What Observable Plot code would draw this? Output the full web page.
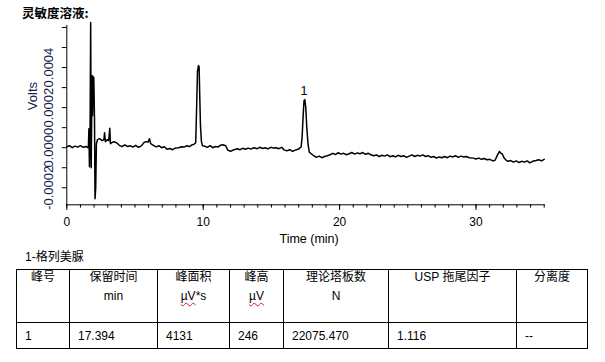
<!DOCTYPE html>
<html>
<head>
<meta charset="utf-8">
<script src="https://cdn.jsdelivr.net/npm/d3@7"></script>
<script src="https://cdn.jsdelivr.net/npm/@observablehq/plot@0.6"></script>
<style>
  html, body { margin: 0; padding: 0; background: #fff; }
  body { width: 605px; height: 362px; position: relative; overflow: hidden;
         font-family: "Liberation Sans", Arial, "Noto Sans CJK SC", sans-serif; color: #000; }
  #title { position: absolute; left: 22px; top: 5px; font: bold 12.5px/16px "Noto Sans CJK SC", sans-serif; }
  #chart { position: absolute; left: 0; top: 20px; }
  #caption { position: absolute; left: 25px; top: 249px; font-size: 12px; line-height: 16px; }
  #tbl { position: absolute; left: 16px; top: 269px; border-collapse: collapse; table-layout: fixed; width: 571px; }
  #tbl td { border: 1px solid #000; padding: 0; font-size: 12px; }
  #tbl tr.h td { height: 52px; vertical-align: top; text-align: center; }
  #tbl tr.d td { height: 25px; vertical-align: middle; text-align: left; padding-left: 8px; }
  .l1 { line-height: 15px; font-family: "Liberation Sans", Arial, "Noto Sans CJK SC", sans-serif; }
  .l2 { line-height: 15px; margin-top: 4px; }
  .sq { text-decoration: underline wavy #d81e1e; text-decoration-thickness: 1px; text-underline-offset: 2px; }
</style>
</head>
<body>
<div id="title">灵敏度溶液:</div>
<div id="chart"></div>
<div id="caption"></div>
<div id="tblwrap"></div>
<script>
// ---- chart data ----
const chartTitle = "灵敏度溶液:";
const xLabel = "Time (min)";
const yLabel = "Volts";
const xDomain = [0, 35];
const yDomain = [-0.000285, 0.00061];
const xMajorTicks = [0, 10, 20, 30];
const xMinorTicks = [0,1,2,3,4,5,6,7,8,9,10,11,12,13,14,15,16,17,18,19,20,21,22,23,24,25,26,27,28,29,30,31,32,33,34,35];
const yTicks = [-0.0002, -0.0001, 0, 0.0001, 0.0002, 0.0003, 0.0004, 0.0005, 0.0006];
const yLabelValues = [-0.0002, 0, 0.0002, 0.0004];
const yLabelTexts = ["-0.0002", "0.0000", "0.0002", "0.0004"];

// trace: [time (min), signal (µV)]
const trace = [
  [0,5],[0.2,10],[0.4,0],[0.6,8],[0.8,3],[1.0,10],[1.2,2],[1.4,6],[1.58,0],
  [1.62,95],[1.66,-95],[1.70,10],[1.75,625],[1.79,-100],[1.85,360],[1.89,160],[1.93,355],[1.98,350],
  [2.03,150],[2.07,-255],[2.12,-200],[2.17,20],[2.25,40],[2.40,45],[2.60,35],[2.72,40],[2.77,75],
  [2.83,30],[2.95,40],[3.07,35],[3.15,97],[3.20,20],[3.30,25],[3.45,30],[3.65,25],
  [3.85,12],[4.05,5],[4.25,14],[4.45,6],[4.65,10],[4.85,3],[5.05,12],[5.25,2],[5.45,8],
  [5.65,25],[5.80,30],[5.95,28],[6.06,45],[6.15,20],
  [6.35,12],[6.55,4],[6.75,10],[6.95,0],[7.15,5],[7.35,-8],[7.55,-4],[7.75,-10],[7.95,-2],
  [8.2,0],[8.4,5],[8.6,3],[8.8,10],[9.0,6],[9.2,15],[9.35,18],[9.45,25],
  [9.50,150],[9.58,380],[9.65,410],[9.70,405],[9.75,250],[9.80,110],[9.87,30],[9.94,10],
  [10.1,8],[10.3,2],[10.5,10],[10.7,0],[10.9,6],[11.1,4],
  [11.25,12],[11.45,15],[11.65,10],
  [11.8,-12],[12.0,-18],[12.25,-10],
  [12.5,-5],[12.7,-10],[12.9,-3],[13.1,-8],[13.3,-2],[13.5,-7],[13.7,0],[13.95,-5],
  [14.15,2],[14.35,-4],[14.55,0],[14.75,-6],[14.95,2],[15.15,-2],
  [15.35,0],[15.55,-5],[15.75,2],[15.95,-12],[16.15,-15],[16.35,-10],[16.55,-18],[16.75,-12],[16.95,-8],[17.12,0],
  [17.18,5],[17.25,50],[17.32,150],[17.39,235],[17.45,240],[17.52,200],[17.60,95],[17.69,15],[17.78,-22],[17.92,-30],
  [18.1,-40],[18.3,-48],[18.5,-42],[18.7,-50],[18.9,-44],[19.1,-40],
  [19.3,-35],[19.5,-28],[19.7,-34],[19.9,-25],[20.1,-32],[20.3,-28],[20.5,-35],[20.7,-30],
  [20.9,-24],[21.1,-32],[21.3,-26],[21.5,-30],[21.7,-24],[21.9,-33],[22.1,-28],
  [22.3,-35],[22.5,-40],[22.7,-36],[22.9,-44],[23.1,-38],[23.3,-42],[23.5,-36],[23.7,-45],[23.9,-40],
  [24.1,-46],[24.3,-38],[24.5,-44],[24.7,-40],[24.9,-48],[25.1,-42],
  [25.3,-36],[25.5,-44],[25.7,-38],[25.9,-42],[26.1,-36],[26.3,-44],[26.5,-40],[26.7,-48],[26.9,-44],
  [27.1,-52],[27.3,-46],[27.5,-50],[27.7,-44],[27.9,-50],[28.1,-42],[28.3,-46],[28.5,-40],[28.7,-48],
  [28.9,-42],[29.1,-46],[29.3,-44],[29.5,-50],
  [29.8,-52],[30.0,-56],[30.2,-52],[30.4,-58],[30.6,-54],[30.8,-60],[31.0,-58],[31.25,-66],
  [31.4,-62],[31.55,-40],[31.72,-18],[31.82,-28],[31.92,-30],[32.05,-50],[32.2,-62],[32.35,-68],
  [32.55,-64],[32.75,-72],[32.95,-66],[33.15,-74],[33.35,-68],[33.55,-72],[33.75,-66],[33.95,-76],
  [34.15,-68],[34.4,-64],[34.6,-60],[34.8,-66],[35.0,-58]
];

// peak table
const compoundCaption = "1-格列美脲";
const peakNo = ["1"];
const peakRT = [17.394];
const peakArea = [4131];
const peakHeightUV = [246];
const plates = ["22075.470"];
const tailing = ["1.116"];
const resolution = ["--"];

// ---- build ----
const traceData = trace.map(([t, uv]) => ({t, v: uv / 1e6}));
const peakData = peakNo.map((p, i) => ({t: peakRT[i], v: peakHeightUV[i] / 1e6, label: p}));
const yLabelData = yLabelValues.map((v, i) => ({v, text: yLabelTexts[i]}));

const ink = "#000";
const navy = "#19224d";

const chart = Plot.plot({
  width: 605,
  height: 230,
  marginTop: 5,
  marginBottom: 45.7,
  marginLeft: 66.3,
  marginRight: 61.3,
  x: {domain: xDomain},
  y: {domain: yDomain},
  style: {fontFamily: "'Liberation Sans', Arial, sans-serif", fontSize: "12px", color: ink, background: "transparent", overflow: "visible"},
  marks: [
    Plot.axisX({ticks: xMinorTicks, tickSize: 3.3, text: null, label: null, stroke: ink}),
    Plot.axisX({ticks: xMajorTicks, tickSize: 5.7, tickPadding: 6.6, label: null, fontSize: 12, tickFormat: d => String(d), stroke: ink}),
    Plot.axisY({ticks: yTicks, tickSize: 4.5, text: null, label: null, stroke: ink}),
    Plot.text(yLabelData, {y: "v", text: "text", frameAnchor: "left", dx: -18, rotate: -90,
      textAnchor: "middle", lineAnchor: "middle", fontSize: 13, fill: navy}),
    Plot.frame({anchor: "bottom", stroke: ink}),
    Plot.frame({anchor: "left", stroke: ink}),
    Plot.line(traceData, {x: "t", y: "v", stroke: "#000", strokeWidth: 1.5, curve: "linear"}),
    Plot.text(peakData, {x: "t", y: "v", text: "label", dy: -7.5, lineAnchor: "middle", fontSize: 12.5, fill: ink}),
    Plot.text([xLabel], {frameAnchor: "bottom", dx: 3.6, dy: 34, lineAnchor: "middle", fontSize: 12.5, fill: ink}),
    Plot.text([yLabel], {frameAnchor: "left", dx: -33.8, dy: -5, rotate: -90, lineAnchor: "middle", fontSize: 13, fill: navy})
  ]
});
document.getElementById("chart").appendChild(chart);
document.getElementById("title").textContent = chartTitle;
document.getElementById("caption").textContent = compoundCaption;

// table
const colWidths = [53, 88, 72, 54, 105, 128, 71];
const headerTop = ["峰号", "保留时间", "峰面积", "峰高", "理论塔板数", "USP 拖尾因子", "分离度"];
const headerUnit = ["", "min", '<span class="sq">µV</span>*s', '<span class="sq">µV</span>', "N", "", ""];
let html = '<table id="tbl"><colgroup>' + colWidths.map(w => `<col style="width:${w}px">`).join("") + '</colgroup>';
html += '<tr class="h">' + headerTop.map((h, i) =>
  `<td><div class="l1">${h}</div>${headerUnit[i] ? `<div class="l2">${headerUnit[i]}</div>` : ""}</td>`).join("") + '</tr>';
peakNo.forEach((p, i) => {
  const row = [p, peakRT[i].toFixed(3), String(peakArea[i]), String(peakHeightUV[i]), plates[i], tailing[i], resolution[i]];
  html += '<tr class="d">' + row.map(c => `<td>${c}</td>`).join("") + '</tr>';
});
html += '</table>';
document.getElementById("tblwrap").innerHTML = html;
</script>
</body>
</html>
